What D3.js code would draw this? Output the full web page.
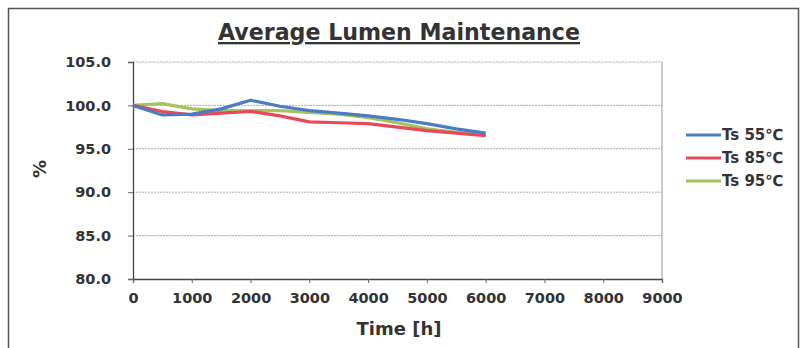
<!DOCTYPE html>
<html>
<head>
<meta charset="utf-8">
<script src="https://cdn.jsdelivr.net/npm/d3@7"></script>
<style>
  body { margin: 0; background: #fff; }
  text { font-family: "DejaVu Sans", Arial, sans-serif; }
</style>
</head>
<body>
<svg width="803" height="348"></svg>
<script>
// data
var hours = [0, 500, 1000, 1500, 2000, 2500, 3000, 3500, 4000, 4500, 5000, 5500, 6000];
var ts55 = [100.0, 98.9, 99.0, 99.6, 100.6, 99.9, 99.4, 99.1, 98.8, 98.4, 97.9, 97.3, 96.8];
var ts85 = [100.0, 99.3, 98.9, 99.1, 99.3, 98.8, 98.1, 98.0, 97.9, 97.5, 97.1, 96.8, 96.5];
var ts95 = [100.0, 100.2, 99.6, 99.4, 99.4, 99.4, 99.2, 99.0, 98.6, 98.0, 97.3, 96.9, 96.6];
var seriesNames = ["Ts 55\u2103", "Ts 85\u2103", "Ts 95\u2103"];
var colors = ["#4a7cc6", "#e8485a", "#a5c25c"];
var xTicks = [0, 1000, 2000, 3000, 4000, 5000, 6000, 7000, 8000, 9000];
var yTicks = [80, 85, 90, 95, 100, 105];

var svg = d3.select("svg");

// outer frame
svg.append("rect")
  .attr("x", 8.5).attr("y", 8.5)
  .attr("width", 790).attr("height", 345)
  .attr("fill", "none").attr("stroke", "#555").attr("stroke-width", 1.5);

var x = d3.scaleLinear().domain([0, 9000]).range([133, 662]);
var y = d3.scaleLinear().domain([80, 105]).range([279, 62]);

// title
svg.append("text")
  .attr("x", 399).attr("y", 40)
  .attr("text-anchor", "middle")
  .attr("font-family", "Liberation Sans, Arial, sans-serif")
  .attr("font-size", 23).attr("font-weight", "bold")
  .attr("fill", "#333")
  .attr("text-decoration", "underline")
  .attr("textLength", 362).attr("lengthAdjust", "spacingAndGlyphs")
  .text("Average Lumen Maintenance");

// grid
svg.append("g").selectAll("line")
  .data(yTicks.filter(function(d){ return d > 80; }))
  .enter().append("line")
  .attr("x1", x(0)).attr("x2", x(9000))
  .attr("y1", function(d){ return y(d); })
  .attr("y2", function(d){ return y(d); })
  .attr("stroke", "#aaa").attr("stroke-width", 1)
  .attr("stroke-dasharray", "2,1");

// right border of plot area
svg.append("line")
  .attr("x1", x(9000)).attr("x2", x(9000))
  .attr("y1", y(105)).attr("y2", y(80))
  .attr("stroke", "#999");

var yAxis = svg.append("g")
  .attr("transform", "translate(" + x(0) + ",0)")
  .call(d3.axisLeft(y).tickValues(yTicks).tickSize(5).tickPadding(17)
    .tickFormat(d3.format(".1f")));
var xAxis = svg.append("g")
  .attr("transform", "translate(0," + y(80) + ")")
  .call(d3.axisBottom(x).tickValues(xTicks).tickSize(4).tickPadding(10)
    .tickFormat(d3.format("d")));

[xAxis, yAxis].forEach(function(a){
  a.select(".domain").attr("stroke", "#444").attr("stroke-width", 1.3);
  a.selectAll(".tick line").attr("stroke", "#666");
  a.selectAll("text")
    .attr("font-size", 14.5).attr("font-weight", "bold").attr("fill", "#333")
    .attr("font-family", "DejaVu Sans, Arial, sans-serif");
});

// axis titles
svg.append("text")
  .attr("transform", "translate(46,169) rotate(-90)")
  .attr("text-anchor", "middle")
  .attr("font-size", 18).attr("font-weight", "bold").attr("fill", "#333")
  .text("%");
svg.append("text")
  .attr("x", 399).attr("y", 335)
  .attr("text-anchor", "middle")
  .attr("font-size", 18).attr("font-weight", "bold").attr("fill", "#333")
  .text("Time [h]");

// lines
var line = d3.line()
  .x(function(d){ return x(d[0]); })
  .y(function(d){ return y(d[1]); });

[ts95, ts85, ts55].forEach(function(vals, k){
  var i = 2 - k;
  var pts = hours.map(function(h, j){ return [h, vals[j]]; });
  svg.append("path")
    .datum(pts)
    .attr("d", line)
    .attr("fill", "none")
    .attr("stroke", colors[i])
    .attr("stroke-width", 3.2)
    .attr("stroke-linejoin", "round");
});

// legend
var lg = svg.append("g").selectAll("g")
  .data(seriesNames)
  .enter().append("g")
  .attr("transform", function(d, i){ return "translate(686," + (135 + i * 23) + ")"; });
lg.append("line")
  .attr("x1", 0).attr("x2", 35)
  .attr("stroke", function(d, i){ return colors[i]; })
  .attr("stroke-width", 3.2);
lg.append("text")
  .attr("x", 36).attr("dy", "0.36em")
  .attr("font-size", 15).attr("font-weight", "bold").attr("fill", "#333")
  .text(function(d){ return d; });
</script>
</body>
</html>
